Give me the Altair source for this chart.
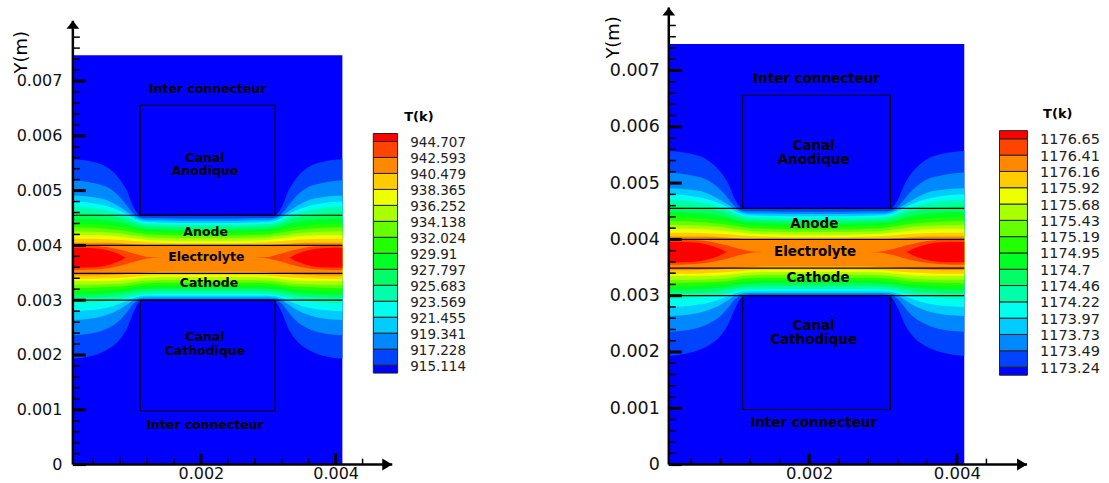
import altair as alt
import pandas as pd

# ---------------- data (lengths in mm) ----------------
# x positions where contour boundaries were read (left half; plate is mirror-symmetric about x = 2.1 mm)
X_READ = [0.1, 0.4, 0.6, 0.8, 0.9, 1.0, 1.1, 1.2, 1.4, 1.7, 2.1]
MIRROR_X = 2.1

# upper boundary (mm) of each contour level 1..15 at X_READ
UPPER = [
    [5.57, 5.52, 5.43, 5.20, 5.00, 4.70, 4.55, 4.54, 4.54, 4.54, 4.54],
    [5.19, 5.14, 5.07, 4.88, 4.73, 4.58, 4.51, 4.50, 4.50, 4.49, 4.49],
    [4.91, 4.88, 4.83, 4.70, 4.62, 4.54, 4.48, 4.46, 4.46, 4.45, 4.45],
    [4.80, 4.77, 4.72, 4.63, 4.57, 4.50, 4.45, 4.43, 4.42, 4.41, 4.41],
    [4.70, 4.68, 4.64, 4.57, 4.52, 4.46, 4.41, 4.39, 4.38, 4.37, 4.37],
    [4.60, 4.58, 4.55, 4.50, 4.46, 4.41, 4.37, 4.35, 4.34, 4.33, 4.33],
    [4.49, 4.48, 4.46, 4.42, 4.39, 4.35, 4.32, 4.30, 4.29, 4.28, 4.28],
    [4.40, 4.39, 4.37, 4.34, 4.32, 4.29, 4.27, 4.25, 4.24, 4.23, 4.23],
    [4.33, 4.32, 4.30, 4.28, 4.26, 4.24, 4.22, 4.20, 4.19, 4.18, 4.18],
    [4.26, 4.25, 4.24, 4.22, 4.20, 4.18, 4.17, 4.15, 4.14, 4.13, 4.13],
    [4.19, 4.19, 4.18, 4.16, 4.15, 4.13, 4.12, 4.10, 4.09, 4.08, 4.08],
    [4.12, 4.12, 4.11, 4.10, 4.09, 4.08, 4.07, 4.06, 4.05, 4.04, 4.04],
    [4.05, 4.05, 4.05, 4.04, 4.03, 4.02, 4.01, 4.00, 3.99, 3.99, 3.99],
    [3.99, 3.99, 3.97, 3.92, 3.89, 3.85, 3.82, 3.79, 3.775, 3.775, 3.775],
    [3.955, 3.95, 3.915, 3.83, 3.775, 3.775, 3.775, 3.775, 3.775, 3.775, 3.775],
]
# lower boundary (mm) of each contour level 1..15 at X_READ
LOWER = [
    [1.93, 1.99, 2.09, 2.29, 2.48, 2.78, 2.98, 3.00, 3.00, 3.00, 3.00],
    [2.36, 2.40, 2.48, 2.64, 2.78, 2.94, 3.01, 3.02, 3.02, 3.02, 3.02],
    [2.64, 2.67, 2.73, 2.84, 2.92, 3.00, 3.04, 3.05, 3.05, 3.05, 3.05],
    [2.80, 2.82, 2.86, 2.94, 2.99, 3.04, 3.07, 3.08, 3.08, 3.08, 3.08],
    [2.95, 2.96, 2.98, 3.02, 3.05, 3.08, 3.10, 3.11, 3.12, 3.12, 3.12],
    [3.04, 3.05, 3.06, 3.09, 3.11, 3.13, 3.15, 3.16, 3.17, 3.17, 3.17],
    [3.10, 3.11, 3.12, 3.14, 3.16, 3.18, 3.20, 3.21, 3.22, 3.22, 3.22],
    [3.16, 3.17, 3.18, 3.20, 3.21, 3.23, 3.25, 3.26, 3.27, 3.27, 3.27],
    [3.22, 3.23, 3.24, 3.25, 3.26, 3.28, 3.30, 3.31, 3.32, 3.32, 3.32],
    [3.28, 3.28, 3.29, 3.30, 3.31, 3.33, 3.35, 3.36, 3.37, 3.37, 3.37],
    [3.35, 3.35, 3.35, 3.36, 3.37, 3.38, 3.40, 3.41, 3.42, 3.42, 3.42],
    [3.39, 3.39, 3.40, 3.41, 3.42, 3.43, 3.44, 3.45, 3.46, 3.46, 3.46],
    [3.45, 3.45, 3.46, 3.47, 3.48, 3.49, 3.50, 3.51, 3.52, 3.52, 3.52],
    [3.55, 3.56, 3.58, 3.63, 3.66, 3.70, 3.73, 3.76, 3.775, 3.775, 3.775],
    [3.595, 3.60, 3.635, 3.72, 3.775, 3.775, 3.775, 3.775, 3.775, 3.775, 3.775],
]

# 16 colour bands, coldest to hottest
BAND_COLORS = ["#0000ff", "#0044ff", "#0088ff", "#00ccff", "#00ffee", "#00ffaa",
               "#00ff66", "#00ff22", "#22ff00", "#66ff00", "#aaff00", "#eeff00",
               "#ffcc00", "#ff8800", "#ff4400", "#ff0000"]

# legend level labels, bottom to top
LEVELS_LEFT = ["915.114", "917.228", "919.341", "921.455", "923.569", "925.683",
               "927.797", "929.91", "932.024", "934.138", "936.252", "938.365",
               "940.479", "942.593", "944.707"]
LEVELS_RIGHT = ["1173.24", "1173.49", "1173.73", "1173.97", "1174.22", "1174.46",
                "1174.7", "1174.95", "1175.19", "1175.43", "1175.68", "1175.92",
                "1176.16", "1176.41", "1176.65"]

# geometry of the cell (mm)
DOMAIN_X = [0.1, 4.1]
DOMAIN_Y = [0.0, 7.47]
LAYER_LINES_Y = [4.55, 4.0, 3.49, 3.0]
BOX_X = [1.1, 3.1]
BOX_TOP = [4.55, 6.56]
BOX_BOTTOM = [0.98, 3.0]

REGION_TEXT = ["Inter connecteur", "Canal", "Anodique", "Anode", "Electrolyte",
               "Cathode", "Canal", "Cathodique", "Inter connecteur"]
REGION_X = [2.1, 2.06, 2.06, 2.07, 2.08, 2.12, 2.06, 2.06, 2.06]
REGION_Y_LEFT = [6.85, 5.60, 5.35, 4.24, 3.79, 3.32, 2.32, 2.07, 0.72]
REGION_Y_RIGHT = [6.85, 5.655, 5.405, 4.27, 3.77, 3.31, 2.455, 2.205, 0.74]

Y_MAJOR = [0, 1, 2, 3, 4, 5, 6, 7]
Y_MINOR = [round(0.2 * i, 1) for i in range(1, 40) if i % 5]
X_MAJOR = [2, 4]
X_MINOR = [0.4, 0.8, 1.2, 1.6, 2.4, 2.8, 3.2, 3.6, 4.4]
AXIS_X0 = 0.1

PANEL_H = 458


def band_table(k):
    xs = X_READ + [2 * MIRROR_X - x for x in reversed(X_READ[:-1])]
    up = UPPER[k] + list(reversed(UPPER[k][:-1]))
    lo = LOWER[k] + list(reversed(LOWER[k][:-1]))
    return pd.DataFrame({"x": xs, "up": up, "lo": lo})


def plot_panel(cfg):
    xs = alt.Scale(domain=[AXIS_X0, cfg["xmax"]], nice=False, zero=False)
    ys = alt.Scale(domain=[0, cfg["ymax"]], nice=False, zero=False)

    lab = dict(labelFont="DejaVu Sans", labelColor="#111",
               ticks=False, tickSize=0, domain=False, grid=False, title=None,
               labelFlush=False, labelOverlap=False,
               labelExpr="format(datum.value/1000, '~g')")
    x_axis = alt.Axis(values=X_MAJOR, labelPadding=1, labelFontSize=cfg["fs_xaxis"], **lab)
    y_axis = alt.Axis(values=Y_MAJOR, labelPadding=cfg["ypad"], labelFontSize=cfg["fs_axis"], **lab)

    def X(f):
        return alt.X(f, type="quantitative", scale=xs, axis=x_axis)

    def Y(f):
        return alt.Y(f, type="quantitative", scale=ys, axis=y_axis)

    layers = []
    bg = pd.DataFrame({"x1": [DOMAIN_X[0]], "x2": [DOMAIN_X[1]],
                       "y1": [DOMAIN_Y[0]], "y2": [DOMAIN_Y[1]]})
    layers.append(alt.Chart(bg).mark_rect(color=BAND_COLORS[0]).encode(
        x=X("x1"), x2="x2", y=Y("y1"), y2="y2"))

    for k in range(len(UPPER)):
        layers.append(alt.Chart(band_table(k)).mark_area(
            color=BAND_COLORS[k + 1], interpolate="monotone", opacity=1).encode(
            x=X("x"), y=Y("up"), y2="lo"))

    lines = pd.DataFrame({"y": LAYER_LINES_Y, "x1": DOMAIN_X[0], "x2": DOMAIN_X[1]})
    layers.append(alt.Chart(lines).mark_rule(color="#000", strokeWidth=1.2).encode(
        x=X("x1"), x2="x2", y=Y("y")))

    boxes = pd.DataFrame({"x1": [BOX_X[0]] * 2, "x2": [BOX_X[1]] * 2,
                          "y1": [BOX_TOP[0], BOX_BOTTOM[0]], "y2": [BOX_TOP[1], BOX_BOTTOM[1]]})
    layers.append(alt.Chart(boxes).mark_rect(fillOpacity=0, stroke="#000", strokeWidth=1).encode(
        x=X("x1"), x2="x2", y=Y("y1"), y2="y2"))

    txt = pd.DataFrame({"x": REGION_X, "y": cfg["region_y"], "t": REGION_TEXT})
    layers.append(alt.Chart(txt).mark_text(font="DejaVu Sans", fontWeight="bold",
                                           fontSize=cfg["fs_region"], color="#000").encode(
        x=X("x"), y=Y("y"), text="t"))

    # axis lines
    yax = pd.DataFrame({"x": [AXIS_X0], "y1": [0], "y2": [cfg["ytip"]]})
    layers.append(alt.Chart(yax).mark_rule(color="#000", strokeWidth=2.5).encode(
        x=X("x"), y=Y("y1"), y2="y2"))
    xax = pd.DataFrame({"y": [0], "x1": [AXIS_X0], "x2": [cfg["xtip"]]})
    layers.append(alt.Chart(xax).mark_rule(color="#000", strokeWidth=2.5).encode(
        x=X("x1"), x2="x2", y=Y("y")))

    # ticks pointing inward
    for vals, w, ln in [(Y_MAJOR, 3, 13), (Y_MINOR, 1.5, 7)]:
        d = pd.DataFrame({"y": vals, "x0": AXIS_X0})
        layers.append(alt.Chart(d).mark_rule(color="#000", strokeWidth=w, x2Offset=ln).encode(
            x=X("x0"), x2="x0", y=Y("y")))
    for vals, w, ln in [(X_MAJOR, 3, 11), (X_MINOR, 1.5, 6)]:
        d = pd.DataFrame({"x": vals, "y0": 0})
        layers.append(alt.Chart(d).mark_rule(color="#000", strokeWidth=w, y2Offset=-ln).encode(
            x=X("x"), y=Y("y0"), y2="y0"))

    # arrow heads
    ya = pd.DataFrame({"x": [AXIS_X0], "y": [cfg["ytip"]]})
    layers.append(alt.Chart(ya).mark_point(shape="M0,0 L0.8,1 L-0.8,1 Z", filled=True,
                                           color="#000", opacity=1, size=256, strokeWidth=0).encode(
        x=X("x"), y=Y("y")))
    xa = pd.DataFrame({"x": [cfg["xtip"]], "y": [0]})
    layers.append(alt.Chart(xa).mark_point(shape="M0,0 L-1,-0.6 L-1,0.6 Z", filled=True,
                                           color="#000", opacity=1, size=400, strokeWidth=0).encode(
        x=X("x"), y=Y("y")))

    # axis title
    tt = pd.DataFrame({"t": ["Y(m)"]})
    layers.append(alt.Chart(tt).mark_text(font="DejaVu Sans", fontSize=18, angle=270,
                                          color="#000", baseline="middle", align="center").encode(
        x=alt.value(cfg["title_x"]), y=alt.value(cfg["title_y"]), text="t"))

    return alt.layer(*layers).properties(width=cfg["w"], height=PANEL_H)


def legend_panel(labels, cfg):
    ys = alt.Scale(domain=cfg["dom"], nice=False, zero=False)
    n = len(labels)
    bands = pd.DataFrame({"lo": [0.5] + list(range(1, n + 1)),
                          "hi": list(range(1, n + 1)) + [n + 0.5],
                          "c": BAND_COLORS})
    rects = alt.Chart(bands).mark_rect(stroke="#222", strokeWidth=1).encode(
        x=alt.value(cfg["rx0"]), x2=alt.value(cfg["rx1"]),
        y=alt.Y("lo:Q", scale=ys, axis=None), y2="hi",
        color=alt.Color("c:N", scale=None))
    lab = pd.DataFrame({"p": list(range(1, n + 1)), "t": labels})
    texts = alt.Chart(lab).mark_text(font="DejaVu Sans", fontSize=cfg["fs"], color="#222",
                                     align="left", baseline="middle", dy=1.5).encode(
        x=alt.value(cfg["lx"]), y=alt.Y("p:Q", scale=ys, axis=None), text="t")
    tt = pd.DataFrame({"t": ["T(k)"]})
    title = alt.Chart(tt).mark_text(font="DejaVu Sans", fontWeight="bold", fontSize=13,
                                    color="#000", align="left", baseline="middle").encode(
        x=alt.value(cfg["tx"]), y=alt.value(cfg["ty"]), text="t")
    return alt.layer(rects, texts, title).properties(width=cfg["w"], height=PANEL_H)


left = plot_panel(dict(xmax=AXIS_X0 + 292.25 / 67.5, ymax=PANEL_H / 54.9, w=292.25,
                       ytip=8.10, xtip=4.84, fs_axis=16, fs_xaxis=16, ypad=11, fs_region=12.5,
                       region_y=REGION_Y_LEFT, title_x=-50.75, title_y=45))
leg_left = legend_panel(list(LEVELS_LEFT), dict(dom=[-5.231, 23.394], w=303.4, rx0=8, rx1=32.3,
                                                 lx=45, fs=13.5, tx=39, ty=110))
right = plot_panel(dict(xmax=AXIS_X0 + 316.6 / 74.0, ymax=PANEL_H / 56.4, w=316.6,
                        ytip=8.12, xtip=4.95, fs_axis=17.5, fs_xaxis=16.5, ypad=9.5, fs_region=13.5,
                        region_y=REGION_Y_RIGHT, title_x=-54.4, title_y=30))
leg_right = legend_panel(list(LEVELS_RIGHT), dict(dom=[-4.983, 23.06], w=124, rx0=14.3, rx1=42.3,
                                                   lx=55, fs=14.5, tx=58, ty=106.7))

chart = alt.hconcat(left, leg_left, right, leg_right, spacing=0, bounds="flush").properties(
    padding={"left": 13, "top": 5, "right": 0, "bottom": 0},
    background="white",
).configure_view(stroke=None)

chart.save("out.html", embed_options={"renderer": "svg", "actions": False})
